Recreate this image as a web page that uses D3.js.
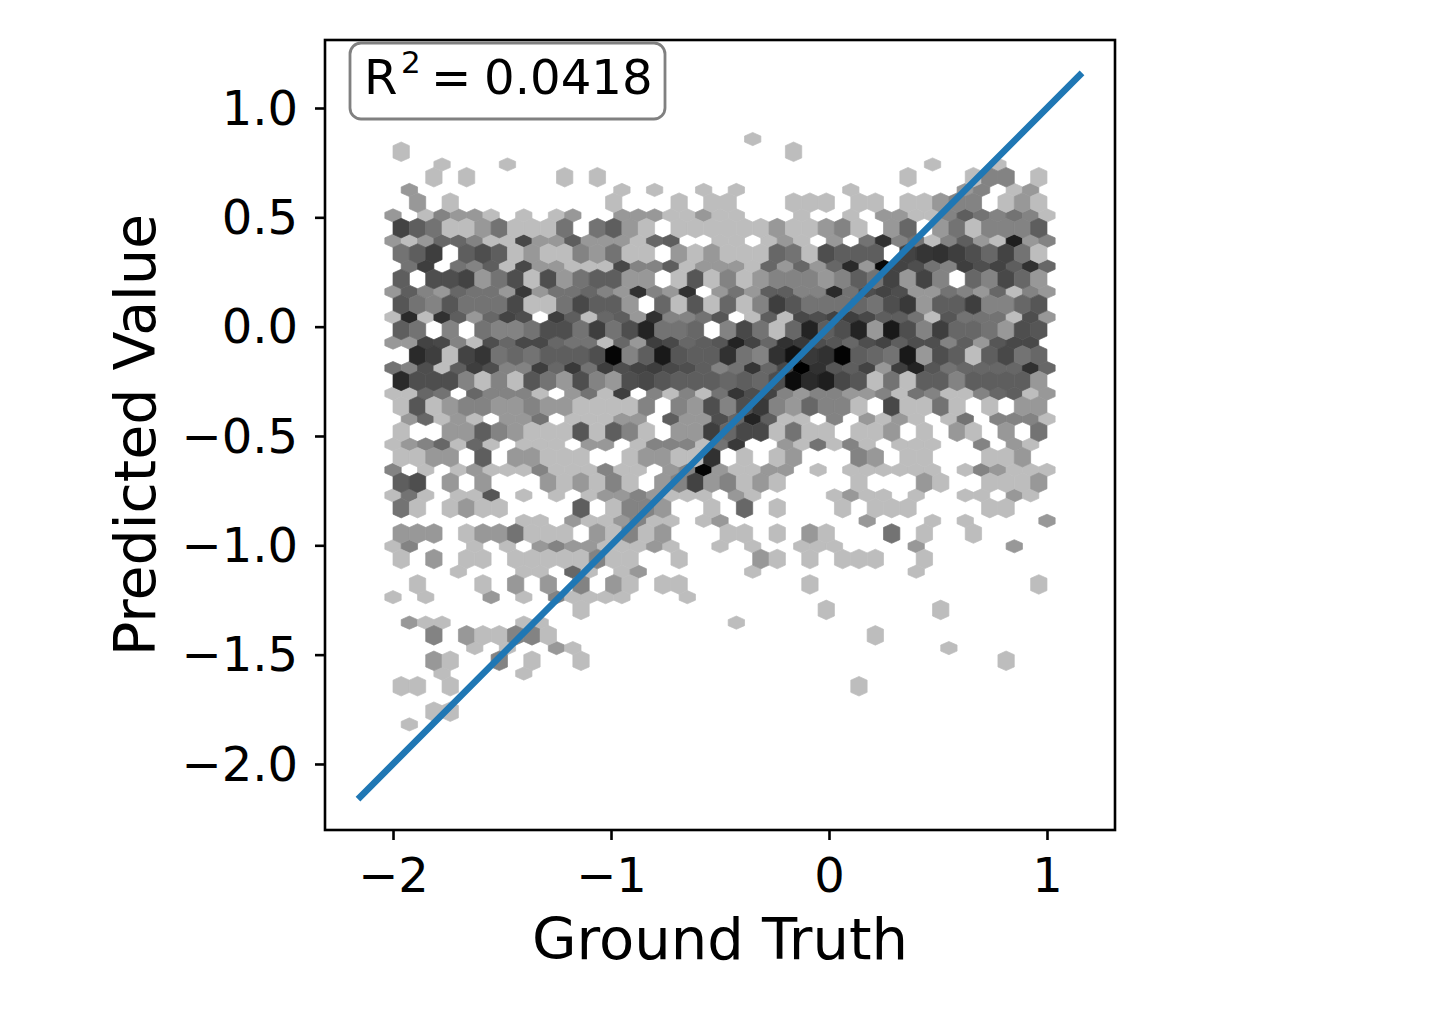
<!DOCTYPE html>
<html>
<head>
<meta charset="utf-8">
<script src="https://cdn.jsdelivr.net/npm/d3@7"></script>
<style>
  body { margin: 0; background: white; }
  text { font-family: "DejaVu Sans"; fill: black; }
</style>
</head>
<body>
<svg id="canvas" width="1435" height="1009"></svg>
<script>
// Hexbin counts, one base-36 digit per cell, grouped in tens.
// Rows go top to bottom, 0 is an empty cell.
var outerRows = [
  "0000000000 0000000000 0010000000",
  "0001000100 0000000000 0000000000 00010001000",
  "0200000000 0000101001 0100000010 00000230120",
  "2013221010 1200222112 1100010010 22113643431",
  "2125531192 2622215600 1101210204 e3413621k23",
  "04b0436192 2111933612 22152525g2 ua843b8a6e5",
  "26325442c2 44532e32e0 2426633g48 a8224325132",
  "1g1e625a80 b61562e334 7016198ab9 66417444182",
  "22a9318599 544152b956 7ia5ec8758 a6883627990",
  "43816b833b 5c4b8ab986 34d59ze76a 2bi745555e5",
  "1154053331 0241b03131 4d8a323322 31431135612",
  "0251210224 0111220622 85i6110302 12101403331",
  "1235151011 1022013331 4c00214131 01110030210",
  "3010121113 111311023w 2112201011 11110132111",
  "1410117010 1012232111 0210000121 10100110210",
  "0000000011 0211231101 2000000002 00010100002",
  "1300010102 3221112100 1010011100 00200000200",
  "0000100011 0510120000 0010000000 0010000000",
  "1010002010 3111100010",
  "0211000011 0000000000 0100000000",
  "0000010100 2100000000 0000000000 0000100000",
  "0001000010",
  "",
  "01"
];
var innerRows = [
  "1000000000 0000000000 0000100000",
  "0010100000 1010000000 0000000000 0100013301",
  "0201000000 0001000101 1000111011 0112330121",
  "a641124111 4046210111 1112112310 2502413336",
  "46b0686121 1324110212 1115418666 0adeb85a41",
  "6088a24818 2466220171 3123332364 a2a3053952",
  "7437444911 4966205171 513b744454 8c266b3357",
  "6403043348 84b48i4450 39415i68i2 m83b554287",
  "0gb1ad4546 668w36m766 e43epcex65 4m28616945",
  "g888313174 2832897666 5658sgk971 4166366662",
  "1712332232 2111130328 38c3253310 9114101022",
  "1002263211 171631022b 5991411011 2010210204",
  "1122060221 110012211e 0101200032 0110001120",
  "6802020002 12131023a2 3121000010 0021001112",
  "4101211000 0601332001 0501000101 1100001100",
  "2220122411 1021312000 1101021000 4010010000",
  "1020110111 1131100100 0021010111 0010000000",
  "0100010202 0302101100 0000010000 0000000001",
  "0000000000 0100000000 0000001000 0001000000",
  "0030211331 0000000000 0000000001",
  "0021003010 0100000000 0000000000 0000000100",
  "1101000000 0000000000 0000000010",
  "0011"
];

var xTicks = [-2, -1, 0, 1];
var yTicks = [-2, -1.5, -1, -0.5, 0, 0.5, 1];
var identityLine = [-2.15, 1.15];
var r2Value = "0.0418";

// hexbin lattice in data units
var binX0 = -2, binDX = 0.075;
var binYTop = 0.858, binDY = 0.1164;

var left = 325, right = 1115, top_ = 40, bottom = 830;

var xScale = d3.scaleLinear().domain([-2.312, 1.312]).range([left, right]);
var yScale = d3.scaleLinear().domain([-2.302, 1.311]).range([bottom, top_]);
var shade = d3.scaleLog().domain([1, 35]).range(['#bdbdbd', '#000000']);

var svg = d3.select('#canvas');

// ************************************************************ //
// Cells

function cellsFrom(rows, firstY, x0){
  var cells = [];
  rows.forEach(function(row, j){
    row.replace(/ /g, '').split('').forEach(function(ch, i){
      var count = parseInt(ch, 36);
      if(count > 0) cells.push({ x: x0 + i*binDX, y: firstY - j*binDY, count: count });
    });
  });
  return cells;
}

// the render squashes the two lattices differently, so each gets its own outline
function hexPath(w, tip, shoulder){
  return 'M0,' + (-tip) + 'L' + w + ',' + (-shoulder) + 'L' + w + ',' + shoulder +
    'L0,' + tip + 'L' + (-w) + ',' + shoulder + 'L' + (-w) + ',' + (-shoulder) + 'Z';
}

var halfW = (xScale(binDX) - xScale(0))/2;
var outerCells = cellsFrom(outerRows, binYTop, binX0);
var innerCells = cellsFrom(innerRows, binYTop - 0.5*binDY, binX0 + 0.5*binDX);

function drawCells(cells, d){
  svg.append('g').selectAll('path').data(cells).join('path')
    .attr('d', d)
    .attr('transform', function(c){ return 'translate(' + xScale(c.x) + ',' + yScale(c.y) + ')'; })
    .attr('fill', function(c){ return shade(c.count); })
    .attr('stroke', function(c){ return shade(c.count); })
    .attr('stroke-width', 0.7);
}
drawCells(outerCells, hexPath(halfW, 6.6, 3));
drawCells(innerCells, hexPath(halfW, 9.8, 6.1));

// ************************************************************ //
// Identity line

var line = d3.line().x(function(d){ return xScale(d); }).y(function(d){ return yScale(d); });
svg.append('path').attr('d', line(identityLine))
  .attr('fill', 'none').attr('stroke', '#1f77b4').attr('stroke-width', 6.6).attr('stroke-linecap', 'square');

// ************************************************************ //
// Axes

var xAxis = svg.append('g').attr('transform', 'translate(0,' + bottom + ')')
  .call(d3.axisBottom(xScale).tickValues(xTicks).tickFormat(d3.format('d')).tickSize(10).tickSizeOuter(0).tickPadding(18));
var yAxis = svg.append('g').attr('transform', 'translate(' + left + ',0)')
  .call(d3.axisLeft(yScale).tickValues(yTicks).tickFormat(d3.format('.1f')).tickSize(10).tickSizeOuter(0).tickPadding(17));
[xAxis, yAxis].forEach(function(a){
  a.select('.domain').remove();
  a.selectAll('line').attr('stroke', 'black').attr('stroke-width', 2.6);
  a.selectAll('text').style('font-size', '48px').style('font-family', '"DejaVu Sans"');
});
yAxis.selectAll('text').attr('dy', '0.34em');
svg.append('rect').attr('x', left).attr('y', top_).attr('width', right-left).attr('height', bottom-top_)
  .attr('fill', 'none').attr('stroke', 'black').attr('stroke-width', 2.6);

svg.append('text').attr('x', 720).attr('y', 959).attr('text-anchor', 'middle')
  .style('font-size', '57.6px').text('Ground Truth');
svg.append('text').attr('transform', 'translate(155,435) rotate(-90)').attr('text-anchor', 'middle')
  .style('font-size', '57px').text('Predicted Value');

// ************************************************************ //
// R2 box

svg.append('rect').attr('x', 350).attr('y', 43).attr('width', 315).attr('height', 76).attr('rx', 11)
  .attr('fill', 'white').attr('stroke', '#808080').attr('stroke-width', 2.8);
var label = svg.append('g').style('font-size', '48.2px');
label.append('text').attr('x', 364).attr('y', 94).text('R');
label.append('text').attr('x', 401).attr('y', 73).style('font-size', '31px').text('2');
label.append('text').attr('x', 431).attr('y', 94).text('=');
label.append('text').attr('x', 484).attr('y', 94).text(r2Value);
</script>
</body>
</html>
